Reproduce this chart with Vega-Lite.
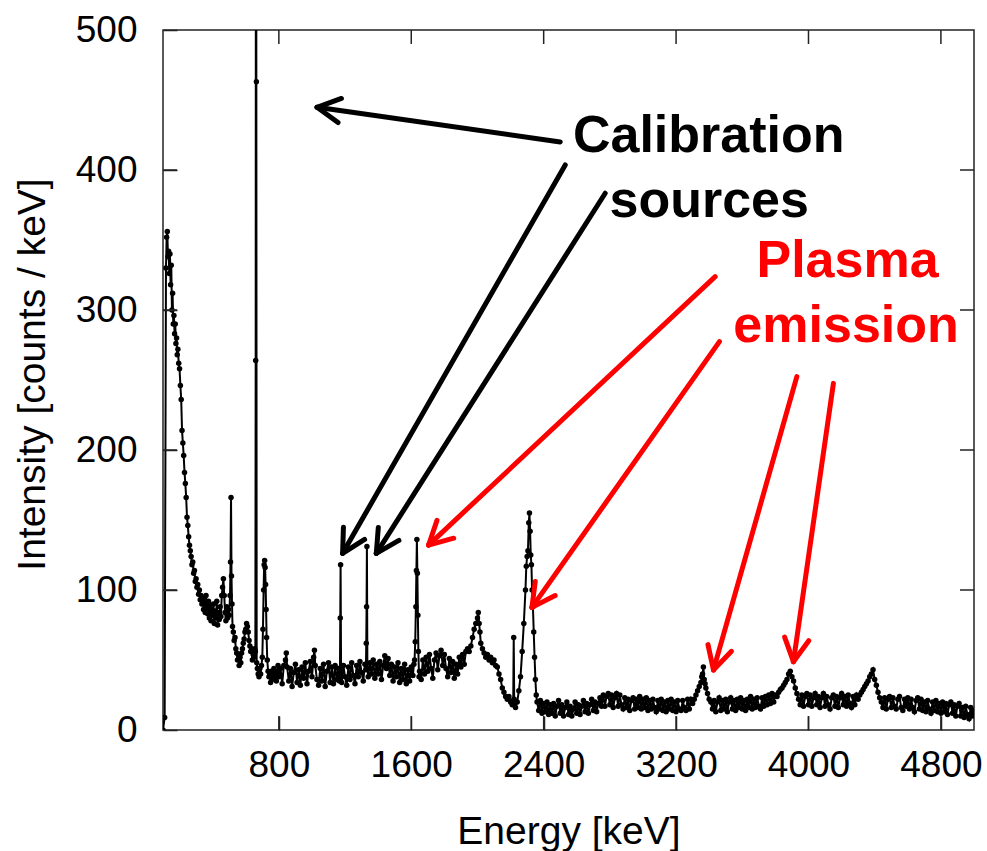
{
"$schema": "https://vega.github.io/schema/vega-lite/v6.json",
"width": 811, "height": 700,
"autosize": {"type": "none"},
"padding": {"left": 163, "top": 30, "right": 13, "bottom": 121},
"background": "white",
"config": {"font": "Liberation Sans", "view": {"stroke": "#222", "strokeWidth": 1.5}},
"datasets": {
"xticks": [{"v":800},{"v":1600},{"v":2400},{"v":3200},{"v":4000},{"v":4800}],
"yticks": [{"v":100},{"v":200},{"v":300},{"v":400}],
"spec": [
{"e":100,"c":0},{"e":110,"c":9},{"e":118,"c":330},{"e":122,"c":352},{"e":126,"c":356},{"e":130,"c":338},{"e":134,"c":342},{"e":138,"c":326},{"e":142,"c":340},{"e":146,"c":318},{"e":150,"c":332},{"e":154,"c":300},{"e":158,"c":312},{"e":162,"c":290},{"e":166,"c":296},{"e":170,"c":283},{"e":174,"c":290},{"e":178,"c":276},{"e":182,"c":280},{"e":186,"c":268},{"e":190,"c":272},{"e":195,"c":262},{"e":200,"c":258},{"e":205,"c":246},{"e":210,"c":236},{"e":215,"c":214},{"e":220,"c":205},{"e":225,"c":196},{"e":230,"c":184},{"e":235,"c":176},{"e":240,"c":166},{"e":245,"c":152},{"e":250,"c":146},{"e":255,"c":138},{"e":260,"c":132},{"e":265,"c":128},{"e":270,"c":124},{"e":275,"c":118},{"e":280,"c":120},{"e":285,"c":112},{"e":290,"c":114},{"e":295,"c":106},{"e":300,"c":108},{"e":305,"c":102},{"e":310,"c":104},{"e":315,"c":97},{"e":320,"c":100},{"e":325,"c":93},{"e":330,"c":96},{"e":335,"c":90},{"e":340,"c":94},{"e":345,"c":86},{"e":350,"c":92},{"e":355,"c":84},{"e":360,"c":96},{"e":365,"c":88},{"e":370,"c":83},{"e":375,"c":92},{"e":380,"c":80},{"e":385,"c":89},{"e":390,"c":78},{"e":395,"c":86},{"e":400,"c":82},{"e":405,"c":90},{"e":410,"c":76},{"e":415,"c":85},{"e":420,"c":80},{"e":425,"c":92},{"e":430,"c":75},{"e":435,"c":84},{"e":440,"c":79},{"e":445,"c":88},{"e":450,"c":81},{"e":455,"c":96},{"e":460,"c":102},{"e":465,"c":108},{"e":470,"c":96},{"e":475,"c":84},{"e":480,"c":78},{"e":485,"c":88},{"e":490,"c":80},{"e":495,"c":86},{"e":500,"c":82},{"e":505,"c":96},{"e":508,"c":120},{"e":511,"c":166},{"e":514,"c":110},{"e":517,"c":90},{"e":520,"c":74},{"e":525,"c":70},{"e":530,"c":64},{"e":535,"c":66},{"e":540,"c":58},{"e":545,"c":55},{"e":550,"c":50},{"e":555,"c":54},{"e":560,"c":46},{"e":565,"c":52},{"e":570,"c":48},{"e":575,"c":55},{"e":580,"c":58},{"e":585,"c":62},{"e":590,"c":65},{"e":595,"c":70},{"e":600,"c":72},{"e":605,"c":76},{"e":610,"c":74},{"e":615,"c":70},{"e":620,"c":64},{"e":625,"c":60},{"e":630,"c":56},{"e":635,"c":58},{"e":640,"c":50},{"e":645,"c":54},{"e":650,"c":52},{"e":655,"c":58},{"e":658,"c":56},{"e":660,"c":264},{"e":662,"c":900},{"e":664,"c":463},{"e":666,"c":48},{"e":670,"c":44},{"e":675,"c":40},{"e":680,"c":38},{"e":685,"c":44},{"e":690,"c":40},{"e":695,"c":46},{"e":700,"c":52},{"e":704,"c":72},{"e":708,"c":100},{"e":711,"c":118},{"e":714,"c":121},{"e":717,"c":116},{"e":720,"c":104},{"e":723,"c":86},{"e":726,"c":66},{"e":730,"c":50},{"e":735,"c":42},{"e":740,"c":38},{"e":745,"c":40},{"e":750,"c":34},{"e":755,"c":42},{"e":760,"c":36},{"e":765,"c":40},{"e":770,"c":44},{"e":775,"c":38},{"e":780,"c":42},{"e":785,"c":35},{"e":790,"c":40},{"e":795,"c":46},{"e":800,"c":38},
{"e":810,"c":44},{"e":820,"c":33},{"e":830,"c":46},{"e":840,"c":50},{"e":845,"c":55},{"e":850,"c":45},{"e":860,"c":35},{"e":870,"c":44},{"e":880,"c":31},{"e":890,"c":41},{"e":900,"c":47},{"e":910,"c":34},{"e":920,"c":43},{"e":930,"c":32},{"e":940,"c":45},{"e":950,"c":37},{"e":960,"c":48},{"e":970,"c":33},{"e":980,"c":42},{"e":990,"c":49},{"e":1000,"c":38},{"e":1010,"c":52},{"e":1015,"c":57},{"e":1020,"c":46},{"e":1030,"c":36},{"e":1040,"c":32},{"e":1050,"c":44},{"e":1060,"c":35},{"e":1070,"c":47},{"e":1080,"c":31},{"e":1090,"c":42},{"e":1100,"c":48},{"e":1110,"c":34},{"e":1120,"c":45},{"e":1130,"c":33},{"e":1140,"c":46},{"e":1150,"c":36},{"e":1160,"c":44},{"e":1166,"c":35},{"e":1169,"c":40},{"e":1171,"c":80},{"e":1173,"c":118},{"e":1176,"c":42},
{"e":1180,"c":34},{"e":1190,"c":46},{"e":1200,"c":38},{"e":1210,"c":32},{"e":1220,"c":45},{"e":1230,"c":36},{"e":1240,"c":48},{"e":1250,"c":39},{"e":1260,"c":33},{"e":1270,"c":46},{"e":1280,"c":38},{"e":1290,"c":49},{"e":1300,"c":41},{"e":1310,"c":35},{"e":1320,"c":47},{"e":1326,"c":43},{"e":1328,"c":62},{"e":1330,"c":88},{"e":1332,"c":131},{"e":1335,"c":44},
{"e":1340,"c":38},{"e":1350,"c":48},{"e":1360,"c":40},{"e":1370,"c":50},{"e":1380,"c":37},{"e":1390,"c":47},{"e":1400,"c":40},{"e":1410,"c":49},{"e":1420,"c":36},{"e":1430,"c":46},{"e":1440,"c":53},{"e":1450,"c":44},{"e":1460,"c":51},{"e":1470,"c":39},{"e":1480,"c":47},{"e":1490,"c":35},{"e":1500,"c":45},{"e":1510,"c":38},{"e":1520,"c":48},{"e":1530,"c":34},{"e":1540,"c":44},{"e":1550,"c":36},{"e":1560,"c":47},{"e":1570,"c":33},{"e":1580,"c":43},{"e":1590,"c":35},{"e":1600,"c":45},{"e":1610,"c":39},{"e":1616,"c":47},{"e":1620,"c":50},{"e":1624,"c":63},{"e":1628,"c":88},{"e":1631,"c":114},{"e":1634,"c":136},{"e":1637,"c":112},{"e":1640,"c":82},{"e":1643,"c":56},{"e":1647,"c":38},
{"e":1650,"c":42},{"e":1660,"c":36},{"e":1670,"c":50},{"e":1680,"c":40},{"e":1690,"c":52},{"e":1700,"c":42},{"e":1710,"c":54},{"e":1720,"c":44},{"e":1730,"c":37},{"e":1740,"c":50},{"e":1750,"c":55},{"e":1760,"c":43},{"e":1770,"c":53},{"e":1780,"c":57},{"e":1790,"c":46},{"e":1800,"c":54},{"e":1810,"c":44},{"e":1820,"c":38},{"e":1830,"c":51},{"e":1840,"c":41},{"e":1850,"c":49},{"e":1860,"c":37},{"e":1870,"c":47},{"e":1880,"c":40},{"e":1890,"c":52},{"e":1900,"c":45},{"e":1910,"c":54},{"e":1920,"c":47},{"e":1930,"c":56},{"e":1940,"c":58},{"e":1950,"c":56},{"e":1960,"c":60},{"e":1970,"c":66},{"e":1980,"c":72},{"e":1990,"c":76},{"e":2000,"c":80},{"e":2005,"c":84},{"e":2010,"c":76},{"e":2015,"c":70},{"e":2020,"c":62},{"e":2030,"c":58},{"e":2040,"c":55},{"e":2050,"c":52},{"e":2060,"c":54},{"e":2070,"c":50},{"e":2080,"c":52},{"e":2090,"c":48},{"e":2100,"c":50},{"e":2110,"c":46},{"e":2120,"c":45},{"e":2130,"c":40},{"e":2140,"c":36},{"e":2150,"c":30},{"e":2160,"c":27},{"e":2170,"c":24},{"e":2180,"c":22},{"e":2190,"c":24},{"e":2200,"c":20},{"e":2210,"c":18},{"e":2216,"c":21},{"e":2219,"c":66},{"e":2222,"c":22},{"e":2230,"c":16},{"e":2240,"c":20},{"e":2250,"c":28},{"e":2260,"c":38},{"e":2270,"c":56},{"e":2280,"c":76},{"e":2290,"c":100},{"e":2295,"c":117},{"e":2300,"c":124},{"e":2305,"c":128},{"e":2310,"c":148},{"e":2314,"c":155},{"e":2318,"c":142},{"e":2322,"c":125},{"e":2326,"c":118},{"e":2330,"c":100},{"e":2335,"c":88},{"e":2340,"c":70},{"e":2345,"c":52},{"e":2350,"c":36},{"e":2355,"c":25},{"e":2360,"c":20},
{"e":2370,"c":14},{"e":2380,"c":21},{"e":2390,"c":12},{"e":2400,"c":19},{"e":2410,"c":13},{"e":2420,"c":20},{"e":2430,"c":11},{"e":2440,"c":18},{"e":2450,"c":12},{"e":2460,"c":19},{"e":2470,"c":10},{"e":2480,"c":17},{"e":2490,"c":21},{"e":2500,"c":12},{"e":2510,"c":18},{"e":2520,"c":10},{"e":2530,"c":16},{"e":2540,"c":20},{"e":2550,"c":11},{"e":2560,"c":17},{"e":2570,"c":10},{"e":2580,"c":15},{"e":2590,"c":20},{"e":2600,"c":12},{"e":2610,"c":18},{"e":2620,"c":11},{"e":2630,"c":17},{"e":2640,"c":21},{"e":2650,"c":13},{"e":2660,"c":19},{"e":2670,"c":12},{"e":2680,"c":18},{"e":2690,"c":22},{"e":2700,"c":14},{"e":2710,"c":20},{"e":2720,"c":13},{"e":2730,"c":19},{"e":2740,"c":23},{"e":2750,"c":17},{"e":2760,"c":25},{"e":2770,"c":17},{"e":2780,"c":24},{"e":2790,"c":26},{"e":2800,"c":18},{"e":2810,"c":25},{"e":2820,"c":16},{"e":2830,"c":23},{"e":2840,"c":26},{"e":2850,"c":17},{"e":2860,"c":25},{"e":2870,"c":18},{"e":2880,"c":15},{"e":2890,"c":23},{"e":2900,"c":16},{"e":2910,"c":22},{"e":2920,"c":14},{"e":2930,"c":21},{"e":2940,"c":23},{"e":2950,"c":15},{"e":2960,"c":22},{"e":2970,"c":16},{"e":2980,"c":24},{"e":2990,"c":15},{"e":3000,"c":22},{"e":3010,"c":16},{"e":3020,"c":23},{"e":3030,"c":14},{"e":3040,"c":21},{"e":3050,"c":15},{"e":3060,"c":22},{"e":3070,"c":16},{"e":3080,"c":13},{"e":3090,"c":21},{"e":3100,"c":15},{"e":3110,"c":22},{"e":3120,"c":14},{"e":3130,"c":20},{"e":3140,"c":13},{"e":3150,"c":21},{"e":3160,"c":15},{"e":3170,"c":22},{"e":3180,"c":14},{"e":3190,"c":20},{"e":3200,"c":13},{"e":3210,"c":21},{"e":3220,"c":15},{"e":3230,"c":14},{"e":3240,"c":21},{"e":3250,"c":16},{"e":3260,"c":14},{"e":3270,"c":22},{"e":3280,"c":15},{"e":3290,"c":22},{"e":3300,"c":19},
{"e":3310,"c":22},{"e":3320,"c":25},{"e":3330,"c":28},{"e":3340,"c":31},{"e":3350,"c":34},{"e":3355,"c":38},{"e":3360,"c":40},{"e":3365,"c":45},{"e":3370,"c":36},{"e":3375,"c":33},{"e":3380,"c":30},{"e":3390,"c":26},{"e":3400,"c":22},{"e":3410,"c":20},
{"e":3420,"c":15},{"e":3430,"c":21},{"e":3440,"c":13},{"e":3450,"c":20},{"e":3460,"c":23},{"e":3470,"c":14},{"e":3480,"c":21},{"e":3490,"c":15},{"e":3500,"c":22},{"e":3510,"c":13},{"e":3520,"c":20},{"e":3530,"c":23},{"e":3540,"c":15},{"e":3550,"c":21},{"e":3560,"c":14},{"e":3570,"c":22},{"e":3580,"c":16},{"e":3590,"c":23},{"e":3600,"c":15},{"e":3610,"c":21},{"e":3620,"c":14},{"e":3630,"c":22},{"e":3640,"c":16},{"e":3650,"c":24},{"e":3660,"c":15},{"e":3670,"c":22},{"e":3680,"c":16},{"e":3690,"c":23},{"e":3700,"c":17},{"e":3710,"c":15},{"e":3720,"c":23},{"e":3730,"c":17},{"e":3740,"c":24},{"e":3750,"c":18},{"e":3760,"c":25},{"e":3770,"c":19},{"e":3780,"c":26},{"e":3790,"c":20},{"e":3800,"c":25},
{"e":3810,"c":24},{"e":3820,"c":27},{"e":3830,"c":29},{"e":3840,"c":30},{"e":3850,"c":32},{"e":3860,"c":34},{"e":3870,"c":36},{"e":3880,"c":40},{"e":3890,"c":42},{"e":3900,"c":38},{"e":3910,"c":35},{"e":3920,"c":30},{"e":3930,"c":26},{"e":3940,"c":22},
{"e":3950,"c":18},{"e":3960,"c":25},{"e":3970,"c":17},{"e":3980,"c":24},{"e":3990,"c":26},{"e":4000,"c":18},{"e":4010,"c":25},{"e":4020,"c":17},{"e":4030,"c":23},{"e":4040,"c":26},{"e":4050,"c":18},{"e":4060,"c":24},{"e":4070,"c":16},{"e":4080,"c":23},{"e":4090,"c":26},{"e":4100,"c":17},{"e":4110,"c":24},{"e":4120,"c":18},{"e":4130,"c":15},{"e":4140,"c":23},{"e":4150,"c":25},{"e":4160,"c":17},{"e":4170,"c":24},{"e":4180,"c":16},{"e":4190,"c":23},{"e":4200,"c":26},{"e":4210,"c":18},{"e":4220,"c":24},{"e":4230,"c":17},{"e":4240,"c":25},{"e":4250,"c":19},{"e":4260,"c":16},{"e":4270,"c":24},{"e":4280,"c":18},{"e":4290,"c":25},{"e":4300,"c":22},
{"e":4310,"c":25},{"e":4320,"c":27},{"e":4330,"c":29},{"e":4340,"c":31},{"e":4350,"c":33},{"e":4360,"c":35},{"e":4370,"c":38},{"e":4380,"c":40},{"e":4390,"c":43},{"e":4400,"c":36},{"e":4410,"c":32},{"e":4420,"c":27},{"e":4430,"c":23},{"e":4440,"c":20},
{"e":4450,"c":16},{"e":4460,"c":23},{"e":4470,"c":15},{"e":4480,"c":22},{"e":4490,"c":24},{"e":4500,"c":16},{"e":4510,"c":23},{"e":4520,"c":17},{"e":4530,"c":15},{"e":4540,"c":22},{"e":4550,"c":24},{"e":4560,"c":16},{"e":4570,"c":14},{"e":4580,"c":22},{"e":4590,"c":17},{"e":4600,"c":23},{"e":4610,"c":15},{"e":4620,"c":22},{"e":4630,"c":16},{"e":4640,"c":13},{"e":4650,"c":21},{"e":4660,"c":23},{"e":4670,"c":15},{"e":4680,"c":22},{"e":4690,"c":14},{"e":4700,"c":20},{"e":4710,"c":13},{"e":4720,"c":21},{"e":4730,"c":15},{"e":4740,"c":12},{"e":4750,"c":20},{"e":4760,"c":14},{"e":4770,"c":21},{"e":4780,"c":13},{"e":4790,"c":19},{"e":4800,"c":12},{"e":4810,"c":20},{"e":4820,"c":13},{"e":4830,"c":19},{"e":4840,"c":11},{"e":4850,"c":18},{"e":4860,"c":20},{"e":4870,"c":12},{"e":4880,"c":18},{"e":4890,"c":10},{"e":4900,"c":17},{"e":4910,"c":19},{"e":4920,"c":10},{"e":4930,"c":16},{"e":4940,"c":9},{"e":4950,"c":17},{"e":4960,"c":11},{"e":4970,"c":8},{"e":4980,"c":16},{"e":4990,"c":10},{"e":5000,"c":14}
],
"arrows": [
{"kind":"cal","x":2500,"y":420.0,"x2":1030.7,"y2":444.8},
{"kind":"cal","x":1030.7,"y":444.8,"x2":1157.5,"y2":433.9},
{"kind":"cal","x":1030.7,"y":444.8,"x2":1178,"y2":451.1},
{"kind":"cal","x":2530.3,"y":403.6,"x2":1185.3,"y2":126.2},
{"kind":"cal","x":1185.3,"y":126.2,"x2":1318.1,"y2":136.1},
{"kind":"cal","x":1185.3,"y":126.2,"x2":1190.1,"y2":144.8},
{"kind":"cal","x":2771.8,"y":383.4,"x2":1388.8,"y2":126.2},
{"kind":"cal","x":1388.8,"y":126.2,"x2":1525.3,"y2":135.4},
{"kind":"cal","x":1388.8,"y":126.2,"x2":1400.9,"y2":144.7},
{"kind":"plasma","x":3436.2,"y":323.8,"x2":1704.7,"y2":132.1},
{"kind":"plasma","x":1704.7,"y":132.1,"x2":1856.3,"y2":137.0},
{"kind":"plasma","x":1704.7,"y":132.1,"x2":1755.4,"y2":149.7},
{"kind":"plasma","x":3462.1,"y":277.4,"x2":2329.1,"y2":87.6},
{"kind":"plasma","x":2329.1,"y":87.6,"x2":2469.3,"y2":96.0},
{"kind":"plasma","x":2329.1,"y":87.6,"x2":2349.1,"y2":106.1},
{"kind":"plasma","x":3929.6,"y":252.4,"x2":3425.9,"y2":42.9},
{"kind":"plasma","x":3425.9,"y":42.9,"x2":3534.6,"y2":56.2},
{"kind":"plasma","x":3425.9,"y":42.9,"x2":3392.7,"y2":61.0},
{"kind":"plasma","x":4150.6,"y":247.6,"x2":3909.0,"y2":48.8},
{"kind":"plasma","x":3909.0,"y":48.8,"x2":4001.5,"y2":63.8},
{"kind":"plasma","x":3909.0,"y":48.8,"x2":3855.9,"y2":66.3}
],
"labels": [
{"kind":"cal","x":3397,"y":413.1,"t":"Calibration"},
{"kind":"cal","x":3400,"y":366.6,"t":"sources"},
{"kind":"plasma","x":4236,"y":323.8,"t":"Plasma"},
{"kind":"plasma","x":4227,"y":277.4,"t":"emission"}
]
},
"resolve": {"axis": {"x": "independent", "y": "independent"}},
"layer": [
{
"data": {"name": "spec"},
"mark": {"type": "line", "color": "black", "strokeWidth": 2, "clip": true},
"encoding": {
"x": {"field": "e", "type": "quantitative", "scale": {"domain": [100, 5000], "nice": false, "zero": false},
"axis": {"orient": "bottom", "values": [800, 1600, 2400, 3200, 4000, 4800], "format": "d", "offset": -14, "zindex": 1, "domain": false, "grid": false, "tickSize": 14, "tickColor": "#222", "tickWidth": 1.5, "labelPadding": 17, "labelFontSize": 37, "labelColor": "black", "labelFont": "Liberation Sans", "title": "Energy [keV]", "titleFontSize": 39, "titleFontWeight": "normal", "titleColor": "black", "titleFont": "Liberation Sans", "titleBaseline": "alphabetic", "titleY": 127}},
"y": {"field": "c", "type": "quantitative", "scale": {"domain": [0, 500], "nice": false},
"axis": {"orient": "left", "values": [0, 100, 200, 300, 400, 500], "format": "d", "offset": -14, "zindex": 1, "domain": false, "grid": false, "tickSize": 14, "tickColor": "#222", "tickWidth": 1.5, "labelPadding": 26, "labelFontSize": 37, "labelColor": "black", "labelFont": "Liberation Sans", "title": "Intensity [counts / keV]", "titleFontSize": 39, "titleFontWeight": "normal", "titleColor": "black", "titleFont": "Liberation Sans", "titleBaseline": "alphabetic", "titleAngle": 270, "titleX": -133, "titleY": 344}}
}
},
{
"data": {"name": "spec"},
"mark": {"type": "circle", "color": "black", "size": 30, "opacity": 1, "clip": true},
"encoding": {
"x": {"field": "e", "type": "quantitative", "scale": {"domain": [100, 5000], "nice": false, "zero": false}, "axis": null},
"y": {"field": "c", "type": "quantitative", "scale": {"domain": [0, 500], "nice": false}, "axis": null}
}
},
{
"data": {"name": "xticks"},
"mark": {"type": "rule", "color": "#222", "strokeWidth": 1.5},
"encoding": {
"x": {"field": "v", "type": "quantitative", "axis": null},
"y": {"datum": 0, "type": "quantitative", "axis": null},
"y2": {"datum": 10}
}
},
{
"data": {"name": "xticks"},
"mark": {"type": "rule", "color": "#222", "strokeWidth": 1.5},
"encoding": {
"x": {"field": "v", "type": "quantitative", "axis": null},
"y": {"datum": 490, "type": "quantitative", "axis": null},
"y2": {"datum": 500}
}
},
{
"data": {"name": "yticks"},
"mark": {"type": "rule", "color": "#222", "strokeWidth": 1.5},
"encoding": {
"y": {"field": "v", "type": "quantitative", "axis": null},
"x": {"datum": 100, "type": "quantitative", "axis": null},
"x2": {"datum": 184.6}
}
},
{
"data": {"name": "yticks"},
"mark": {"type": "rule", "color": "#222", "strokeWidth": 1.5},
"encoding": {
"y": {"field": "v", "type": "quantitative", "axis": null},
"x": {"datum": 4915.4, "type": "quantitative", "axis": null},
"x2": {"datum": 5000}
}
},
{
"data": {"name": "arrows"},
"mark": {"type": "rule", "strokeWidth": 5, "strokeCap": "round"},
"encoding": {
"x": {"field": "x", "type": "quantitative", "axis": null},
"y": {"field": "y", "type": "quantitative", "axis": null},
"x2": {"field": "x2"},
"y2": {"field": "y2"},
"color": {"field": "kind", "type": "nominal", "scale": {"domain": ["cal", "plasma"], "range": ["black", "#ff0000"]}, "legend": null}
}
},
{
"data": {"name": "labels"},
"mark": {"type": "text", "font": "Liberation Sans", "fontWeight": "bold", "fontSize": 52, "align": "center", "baseline": "alphabetic"},
"encoding": {
"x": {"field": "x", "type": "quantitative", "axis": null},
"y": {"field": "y", "type": "quantitative", "axis": null},
"text": {"field": "t", "type": "nominal"},
"color": {"field": "kind", "type": "nominal", "scale": {"domain": ["cal", "plasma"], "range": ["black", "#ff0000"]}, "legend": null}
}
}
]
}
